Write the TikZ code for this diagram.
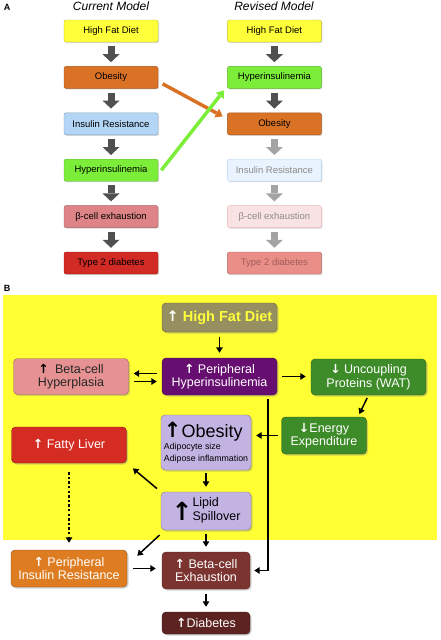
\documentclass[tikz,border=0pt]{standalone}
\usepackage{fontspec}
\setmainfont{Liberation Sans}
\newfontfamily\arrowfont{DejaVu Sans}
\newcommand{\uparr}{{\arrowfont\bfseries ↑}}
\newcommand{\dnarr}{{\arrowfont\bfseries ↓}}
\usetikzlibrary{arrows.meta,positioning,shadows}

\definecolor{dietyellow}{HTML}{FFFF3A}
\definecolor{obeseorange}{HTML}{DA7226}
\definecolor{resistblue}{HTML}{B4D6F6}
\definecolor{hypergreen}{HTML}{7CEE3A}
\definecolor{betapink}{HTML}{DE8486}
\definecolor{diabred}{HTML}{D22A24}
\definecolor{paleblue}{HTML}{E9F3FD}
\definecolor{palepink}{HTML}{F9E2E4}
\definecolor{salmon}{HTML}{EA8E88}
\definecolor{arrowdark}{HTML}{505050}
\definecolor{arrowlight}{HTML}{A4A4A4}
\definecolor{bgyellow}{HTML}{FFFF33}
\definecolor{dietolive}{HTML}{969061}
\definecolor{hyperpurple}{HTML}{660F70}
\definecolor{plasiapink}{HTML}{E69292}
\definecolor{leafgreen}{HTML}{3E8C29}
\definecolor{lavender}{HTML}{C3B3E3}
\definecolor{liverred}{HTML}{D42B23}
\definecolor{resistorange}{HTML}{DE7C22}
\definecolor{exhaustbrown}{HTML}{7C3431}
\definecolor{diabbrown}{HTML}{5C2321}

\begin{document}
\begin{tikzpicture}[x=1pt, y=-1pt,
    cbox/.style={rectangle, rounded corners=2pt, draw=#1!75!black, fill=#1,
        drop shadow={opacity=0.3, shadow xshift=1pt, shadow yshift=-1pt},
        minimum width=94pt, minimum height=22pt, inner sep=1pt,
        font=\fontsize{9.5}{11}\selectfont},
    bbox/.style={rectangle, rounded corners=4pt, draw=#1!65!black, fill=#1,
        drop shadow={opacity=0.35, shadow xshift=1.5pt, shadow yshift=-1.5pt},
        text=white, align=center, inner sep=1pt,
        font=\fontsize{12.5}{13.5}\selectfont},
    blockarrow/.style={line width=7pt, draw=#1,
        -{Triangle[length=8pt, width=17pt, line width=0pt]},
        shorten <=4pt, shorten >=4pt},
    fatline/.style={line width=3.5pt, draw=#1,
        -{Triangle[length=7pt, width=10pt, line width=0pt]},
        shorten <=5pt, shorten >=5pt},
    arrow/.style={-{Triangle[length=5.5pt, width=6.5pt]}, line width=1.5pt,
        shorten <=5pt, shorten >=5pt},
    dotline/.style={arrow, line width=2.4pt, dash pattern=on 2.4pt off 2.2pt},
    node distance=24pt
]
\useasboundingbox (0,0) rectangle (440,640);

% panel A
\node[font=\bfseries\fontsize{9}{10}\selectfont] (laba) at (7,7) {A};
\node[font=\itshape\fontsize{12}{13}\selectfont] (curtitle) at (111,6) {Current Model};
\node[font=\itshape\fontsize{12}{13}\selectfont] (revtitle) at (274,6) {Revised Model};

\node[cbox=dietyellow] (chfd) at (111,31) {High Fat Diet};
\node[cbox=obeseorange, below=of chfd] (cobesity) {Obesity};
\node[cbox=resistblue, below=of cobesity] (cresist) {Insulin Resistance};
\node[cbox=hypergreen, below=of cresist] (chyper) {Hyperinsulinemia};
\node[cbox=betapink, below=of chyper] (cbeta) {β-cell exhaustion};
\node[cbox=diabred, below=of cbeta] (cdiab) {Type 2 diabetes};

\node[cbox=dietyellow, right=69pt of chfd] (rhfd) {High Fat Diet};
\node[cbox=hypergreen, right=69pt of cobesity] (rhyper) {Hyperinsulinemia};
\node[cbox=obeseorange, right=69pt of cresist] (robesity) {Obesity};
\node[cbox=paleblue, draw=resistblue, text=black!45, right=69pt of chyper] (rresist) {Insulin Resistance};
\node[cbox=palepink, draw=betapink!60, text=black!45, right=69pt of cbeta] (rbeta) {β-cell exhaustion};
\node[cbox=salmon, text=diabred!40!gray, right=69pt of cdiab] (rdiab) {Type 2 diabetes};

\draw[blockarrow=arrowdark] (chfd) -- (cobesity);
\draw[blockarrow=arrowdark] (cobesity) -- (cresist);
\draw[blockarrow=arrowdark] (cresist) -- (chyper);
\draw[blockarrow=arrowdark] (chyper) -- (cbeta);
\draw[blockarrow=arrowdark] (cbeta) -- (cdiab);
\draw[blockarrow=arrowdark] (rhfd) -- (rhyper);
\draw[blockarrow=arrowdark] (rhyper) -- (robesity);
\draw[blockarrow=arrowlight] (robesity) -- (rresist);
\draw[blockarrow=arrowlight] (rresist) -- (rbeta);
\draw[blockarrow=arrowlight] (rbeta) -- (rdiab);

\draw[fatline=obeseorange] ([yshift=-4pt]cobesity.east) -- ([yshift=5pt]robesity.west);
\draw[fatline=hypergreen] ([yshift=-4pt]chyper.east) -- ([yshift=-9pt]rhyper.west);

% panel B
\node[font=\bfseries\fontsize{9}{10}\selectfont] (labb) at (7,288) {B};
\fill[bgyellow] (3,295) rectangle (437,540);

\node[bbox=dietolive, text=dietyellow, minimum width=115pt, minimum height=29pt,
    font=\bfseries\fontsize{14.5}{16}\selectfont] (diet) at (219.5,317.5)
    {\textcolor{white}{\uparr} High Fat Diet};
\node[bbox=hyperpurple, minimum width=115pt, minimum height=37pt] (hyper) at (219.5,376.5)
    {\uparr\ Peripheral\\Hyperinsulinemia};
\node[bbox=plasiapink, text=black!85, minimum width=115pt, minimum height=36pt] (hyperplasia) at (71,376.5)
    {{\color{black}\uparr}\enspace Beta-cell\\Hyperplasia};
\node[bbox=leafgreen, minimum width=115pt, minimum height=36pt] (uncoupling) at (368.5,377)
    {\dnarr\ Uncoupling\\Proteins (WAT)};
\node[bbox=leafgreen, minimum width=85pt, minimum height=37pt] (energy) at (324,435.5)
    {\dnarr Energy\\Expenditure};
\node[bbox=lavender, text=black, align=left, minimum width=90pt, minimum height=55pt] (obesity) at (206,442.5)
    {{\fontsize{18}{18}\selectfont{\fontsize{21}{21}\selectfont\uparr}Obesity}\\[-1pt]
     {\fontsize{8.8}{10}\selectfont Adipocyte size}\\[-1.5pt]
     {\fontsize{8.8}{10}\selectfont Adipose inflammation}};
\node[bbox=liverred, minimum width=115pt, minimum height=36pt] (liver) at (69,445)
    {\uparr\ Fatty Liver};
\node[bbox=lavender, text=black, minimum width=90pt, minimum height=38pt] (spill) at (206,511)
    {{\fontsize{25}{25}\selectfont\uparr}\begin{tabular}[b]{@{}l@{}}Lipid\\Spillover\end{tabular}};
\node[bbox=resistorange, minimum width=116pt, minimum height=37pt] (resist) at (69,568.5)
    {\uparr\ Peripheral\\Insulin Resistance};
\node[bbox=exhaustbrown, minimum width=88pt, minimum height=37pt] (exhaust) at (206,570.5)
    {\uparr\ Beta-cell\\Exhaustion};
\node[bbox=diabbrown, minimum width=88pt, minimum height=22pt] (diabetes) at (206,623)
    {\uparr Diabetes};

\draw[arrow] (diet) -- (hyper);
\draw[arrow] ([yshift=3pt]hyper.west) -- ([yshift=3pt]hyperplasia.east);
\draw[arrow] ([yshift=-5pt]hyperplasia.east) -- ([yshift=-5pt]hyper.west);
\draw[arrow] (hyper.east) -- (hyper.east -| uncoupling.west);
\draw[arrow, shorten <=3pt, shorten >=3pt] (uncoupling.south) -- ([xshift=34pt]energy.north);
\draw[arrow, shorten <=4pt, shorten >=4pt] ([xshift=48.5pt]hyper.south) |- (exhaust.east);
\draw[arrow, shorten <=3pt, shorten >=5pt] (energy.west) -- (energy.west -| obesity.east);
\draw[arrow, shorten <=3pt] (obesity) -- (spill);
\draw[arrow, shorten >=8pt] (spill.north west) -- (liver.south east);
\draw[dotline, shorten <=9pt, shorten >=7pt] (liver) -- (resist);
\draw[arrow, shorten <=7pt, shorten >=0pt] ([xshift=4pt]spill.south west) -- ([xshift=10pt,yshift=-6pt]resist.north east);
\draw[arrow, shorten <=4pt] (spill) -- (exhaust);
\draw[arrow, shorten <=6pt, shorten >=6pt] (resist.east) -- (resist.east -| exhaust.west);
\draw[arrow] (exhaust) -- (diabetes);
\end{tikzpicture}
\end{document}
